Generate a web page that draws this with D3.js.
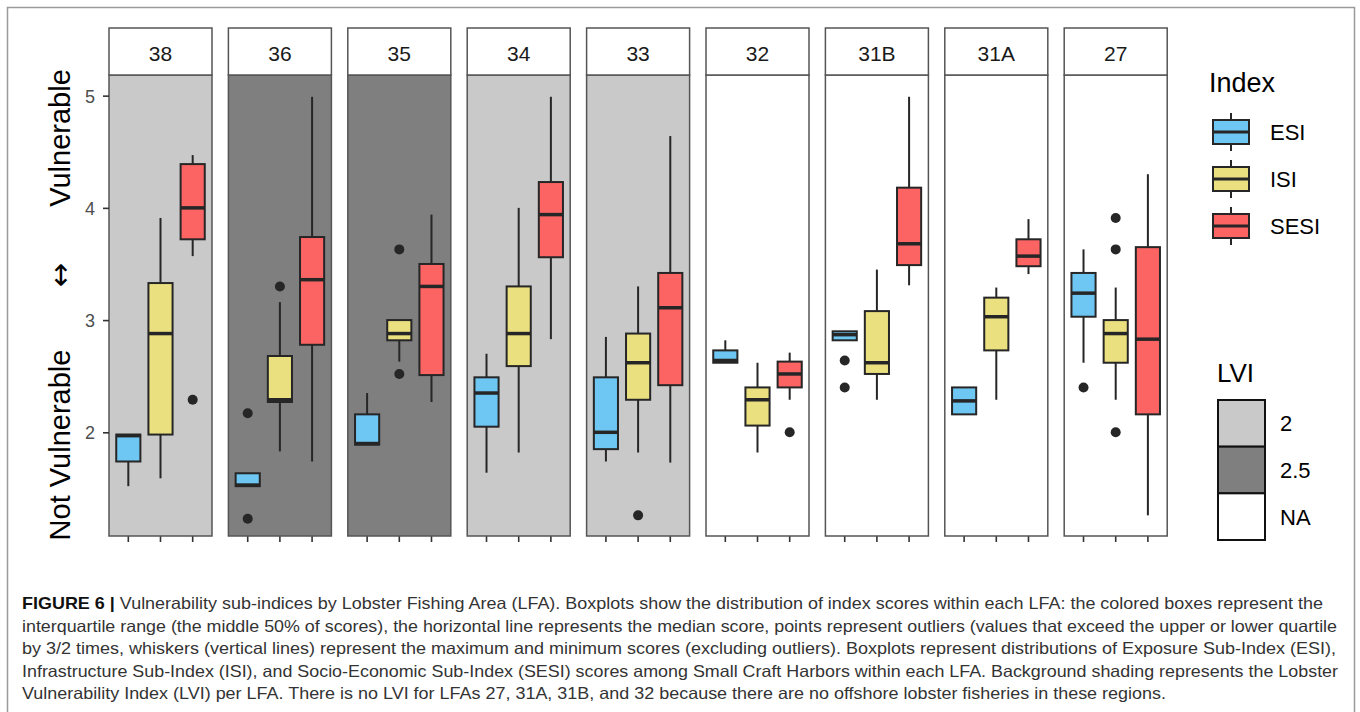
<!DOCTYPE html>
<html>
<head>
<meta charset="utf-8">
<script src="https://cdn.jsdelivr.net/npm/d3@7"></script>
<style>
  body { margin: 0; background: #fff; }
  svg { display: block; }
  svg text { font-family: "Liberation Sans", Arial, Helvetica, sans-serif; }
</style>
</head>
<body>
<svg id="chart" width="1360" height="712"></svg>
<script>
// Lobster Fishing Areas, in panel order, and their Lobster Vulnerability Index
const areas = ["38", "36", "35", "34", "33", "32", "31B", "31A", "27"];
const lviByArea = ["2", "2.5", "2.5", "2", "2", "NA", "NA", "NA", "NA"];
const lviLevels = ["2", "2.5", "NA"];

// Sub-indices drawn inside each panel
const indexNames = ["ESI", "ISI", "SESI"];

// Box statistics per area: [lower whisker, Q1, median, Q3, upper whisker]
const esiStats = [
  [1.52, 1.74, 1.97, 1.98, 1.98],
  [1.52, 1.52, 1.53, 1.635, 1.635],
  [1.89, 1.89, 1.90, 2.16, 2.35],
  [1.64, 2.05, 2.35, 2.49, 2.70],
  [1.74, 1.85, 2.00, 2.49, 2.85],
  [2.62, 2.62, 2.64, 2.73, 2.82],
  [2.82, 2.82, 2.87, 2.90, 2.90],
  [2.16, 2.16, 2.28, 2.40, 2.40],
  [2.62, 3.03, 3.24, 3.42, 3.63]
];
const isiStats = [
  [1.59, 1.98, 2.88, 3.33, 3.91],
  [1.83, 2.27, 2.29, 2.68, 3.16],
  [2.63, 2.82, 2.88, 3.00, 3.00],
  [1.82, 2.59, 2.88, 3.30, 4.00],
  [1.82, 2.29, 2.62, 2.88, 3.30],
  [1.82, 2.06, 2.29, 2.40, 2.62],
  [2.29, 2.52, 2.62, 3.08, 3.45],
  [2.29, 2.73, 3.03, 3.20, 3.29],
  [2.29, 2.62, 2.88, 3.00, 3.29]
];
const sesiStats = [
  [3.57, 3.72, 4.00, 4.39, 4.47],
  [1.74, 2.78, 3.36, 3.74, 4.99],
  [2.27, 2.51, 3.30, 3.50, 3.94],
  [2.83, 3.56, 3.94, 4.23, 4.99],
  [1.73, 2.42, 3.11, 3.42, 4.64],
  [2.29, 2.40, 2.52, 2.63, 2.71],
  [3.31, 3.49, 3.68, 4.18, 4.99],
  [3.41, 3.48, 3.57, 3.72, 3.90],
  [1.26, 2.16, 2.83, 3.65, 4.30]
];

// Outlying harbour scores per area
const esiOutliers = [[], [2.17, 1.23], [], [], [], [], [2.64, 2.40], [], [2.40]];
const isiOutliers = [[], [3.30], [3.63, 2.52], [], [1.26], [], [], [], [3.91, 3.63, 2.00]];
const sesiOutliers = [[2.29], [], [], [], [], [2.00], [], [], []];

const yTicks = [2, 3, 4, 5];

const captionLines = [
  "Vulnerability sub-indices by Lobster Fishing Area (LFA). Boxplots show the distribution of index scores within each LFA: the colored boxes represent the",
  "interquartile range (the middle 50% of scores), the horizontal line represents the median score, points represent outliers (values that exceed the upper or lower quartile",
  "by 3/2 times, whiskers (vertical lines) represent the maximum and minimum scores (excluding outliers). Boxplots represent distributions of Exposure Sub-Index (ESI),",
  "Infrastructure Sub-Index (ISI), and Socio-Economic Sub-Index (SESI) scores among Small Craft Harbors within each LFA. Background shading represents the Lobster",
  "Vulnerability Index (LVI) per LFA. There is no LVI for LFAs 27, 31A, 31B, and 32 because there are no offshore lobster fisheries in these regions."
];

// ---- styling ----
const indexColor = d3.scaleOrdinal().domain(indexNames).range(["#6EC6F2", "#EBE07F", "#FC6464"]);
const lviFill = d3.scaleOrdinal().domain(lviLevels).range(["#C9C9C9", "#7F7F7F", "#FFFFFF"]);
const ink = "#262626";
const frame = "#555555";

const statsByIndex = { ESI: esiStats, ISI: isiStats, SESI: sesiStats };
const outliersByIndex = { ESI: esiOutliers, ISI: isiOutliers, SESI: sesiOutliers };

const svg = d3.select("#chart");
svg.append("rect").attr("width", 1360).attr("height", 712).attr("fill", "#fff");
svg.append("rect")
  .attr("x", 7.5).attr("y", 7.5).attr("width", 1347).attr("height", 720)
  .attr("fill", "none").attr("stroke", "#9A9A9A").attr("stroke-width", 1.5);

// ---- scales ----
const panelTop = 75, panelBottom = 536, stripTop = 28;
const y = d3.scaleLinear().domain([1.076, 5.184]).range([panelBottom, panelTop]);
const xPanel = d3.scaleBand().domain(areas).range([109, 1167.2]).paddingInner(0.1374);
const pw = xPanel.bandwidth();
const xIdx = d3.scalePoint().domain(indexNames).range([0, pw]).padding(0.6);
const boxW = xIdx.step() * 0.75;

// ---- panels ----
areas.forEach((area, i) => {
  const g = svg.append("g").attr("transform", `translate(${xPanel(area)},0)`);

  g.append("rect")
    .attr("x", 0).attr("y", panelTop).attr("width", pw).attr("height", panelBottom - panelTop)
    .attr("fill", lviFill(lviByArea[i]));

  indexNames.forEach(name => {
    const [lo, q1, med, q3, hi] = statsByIndex[name][i];
    const cx = xIdx(name);
    const bg = g.append("g");
    bg.append("line").attr("x1", cx).attr("x2", cx).attr("y1", y(q3)).attr("y2", y(hi))
      .attr("stroke", ink).attr("stroke-width", 2);
    bg.append("line").attr("x1", cx).attr("x2", cx).attr("y1", y(q1)).attr("y2", y(lo))
      .attr("stroke", ink).attr("stroke-width", 2);
    bg.append("rect")
      .attr("x", cx - boxW / 2).attr("y", y(q3)).attr("width", boxW).attr("height", y(q1) - y(q3))
      .attr("fill", indexColor(name)).attr("stroke", ink).attr("stroke-width", 2);
    bg.append("line").attr("x1", cx - boxW / 2).attr("x2", cx + boxW / 2).attr("y1", y(med)).attr("y2", y(med))
      .attr("stroke", ink).attr("stroke-width", 3.5);
    bg.selectAll("circle").data(outliersByIndex[name][i]).join("circle")
      .attr("cx", cx).attr("cy", d => y(d)).attr("r", 5).attr("fill", ink);

    g.append("line").attr("x1", cx).attr("x2", cx).attr("y1", panelBottom).attr("y2", panelBottom + 6)
      .attr("stroke", "#333").attr("stroke-width", 1.6);
  });

  g.append("rect")
    .attr("x", 0).attr("y", panelTop).attr("width", pw).attr("height", panelBottom - panelTop)
    .attr("fill", "none").attr("stroke", frame).attr("stroke-width", 1.5);

  g.append("rect")
    .attr("x", 0).attr("y", stripTop).attr("width", pw).attr("height", panelTop - stripTop)
    .attr("fill", "#fff").attr("stroke", frame).attr("stroke-width", 1.5);
  g.append("text")
    .attr("x", pw / 2).attr("y", 60.5).attr("text-anchor", "middle")
    .attr("font-size", 21).attr("fill", "#1A1A1A").text(area);
});

// ---- y axis ----
const yAxis = svg.append("g").attr("transform", `translate(${xPanel(areas[0])},0)`)
  .call(d3.axisLeft(y).tickValues(yTicks).tickFormat(d3.format("d")).tickSize(6).tickPadding(8));
yAxis.select(".domain").remove();
yAxis.selectAll(".tick line").attr("stroke", "#333").attr("stroke-width", 1.6);
yAxis.selectAll(".tick text").attr("font-size", 18).attr("fill", "#4D4D4D").attr("dy", "0.36em");

const titleParts = [
  { text: "Vulnerable", at: 138, font: '"Liberation Sans", Arial, sans-serif', size: 29 },
  { text: "\u2194", at: 275, font: '"DejaVu Sans", sans-serif', size: 29 },
  { text: "Not Vulnerable", at: 445, font: '"Liberation Sans", Arial, sans-serif', size: 29 }
];
svg.selectAll("text.ytitle").data(titleParts).join("text")
  .attr("class", "ytitle")
  .attr("transform", d => `translate(70,${d.at}) rotate(-90)`)
  .attr("text-anchor", "middle").attr("fill", "#000")
  .style("font-family", d => d.font)
  .style("font-size", d => d.size + "px")
  .text(d => d.text);

// ---- Index legend ----
const legIdx = svg.append("g");
legIdx.append("text").attr("x", 1209).attr("y", 92).attr("font-size", 27).attr("fill", "#000").text("Index");
const keyY = d3.scalePoint().domain(indexNames).range([132, 226]);
indexNames.forEach(name => {
  const cy = keyY(name);
  const kx = 1231;
  legIdx.append("line").attr("x1", kx).attr("x2", kx).attr("y1", cy - 19).attr("y2", cy + 19)
    .attr("stroke", ink).attr("stroke-width", 2);
  legIdx.append("rect").attr("x", kx - 18).attr("y", cy - 12).attr("width", 36).attr("height", 24)
    .attr("fill", indexColor(name)).attr("stroke", ink).attr("stroke-width", 2);
  legIdx.append("line").attr("x1", kx - 18).attr("x2", kx + 18).attr("y1", cy).attr("y2", cy)
    .attr("stroke", ink).attr("stroke-width", 3);
  legIdx.append("text").attr("x", 1270).attr("y", cy + 8).attr("font-size", 22).attr("fill", "#000").text(name);
});

// ---- LVI legend ----
const legLvi = svg.append("g");
legLvi.append("text").attr("x", 1217).attr("y", 382).attr("font-size", 26).attr("fill", "#000").text("LVI");
const lviKeyY = d3.scaleBand().domain(lviLevels).range([400, 540]);
lviLevels.forEach(level => {
  const ky = lviKeyY(level);
  legLvi.append("rect").attr("x", 1218).attr("y", ky).attr("width", 47).attr("height", lviKeyY.bandwidth())
    .attr("fill", lviFill(level)).attr("stroke", "#111").attr("stroke-width", 2);
  legLvi.append("text").attr("x", 1280).attr("y", ky + lviKeyY.bandwidth() / 2 + 8)
    .attr("font-size", 22).attr("fill", "#000").text(level);
});

// ---- caption ----
const capLeft = 22;
const capRight = [1323, 1337, 1336, 1338, 1166];
const capBase = [609, 631.5, 654, 676.5, 699];
captionLines.forEach((line, i) => {
  const t = svg.append("text")
    .attr("x", capLeft).attr("y", capBase[i])
    .attr("font-size", 16.5).attr("fill", "#333")
    .attr("textLength", capRight[i] - capLeft).attr("lengthAdjust", "spacingAndGlyphs");
  if (i === 0) {
    t.append("tspan").attr("font-weight", "bold").attr("fill", "#111").text("FIGURE 6 | ");
  }
  t.append("tspan").text(line);
});
</script>
</body>
</html>
